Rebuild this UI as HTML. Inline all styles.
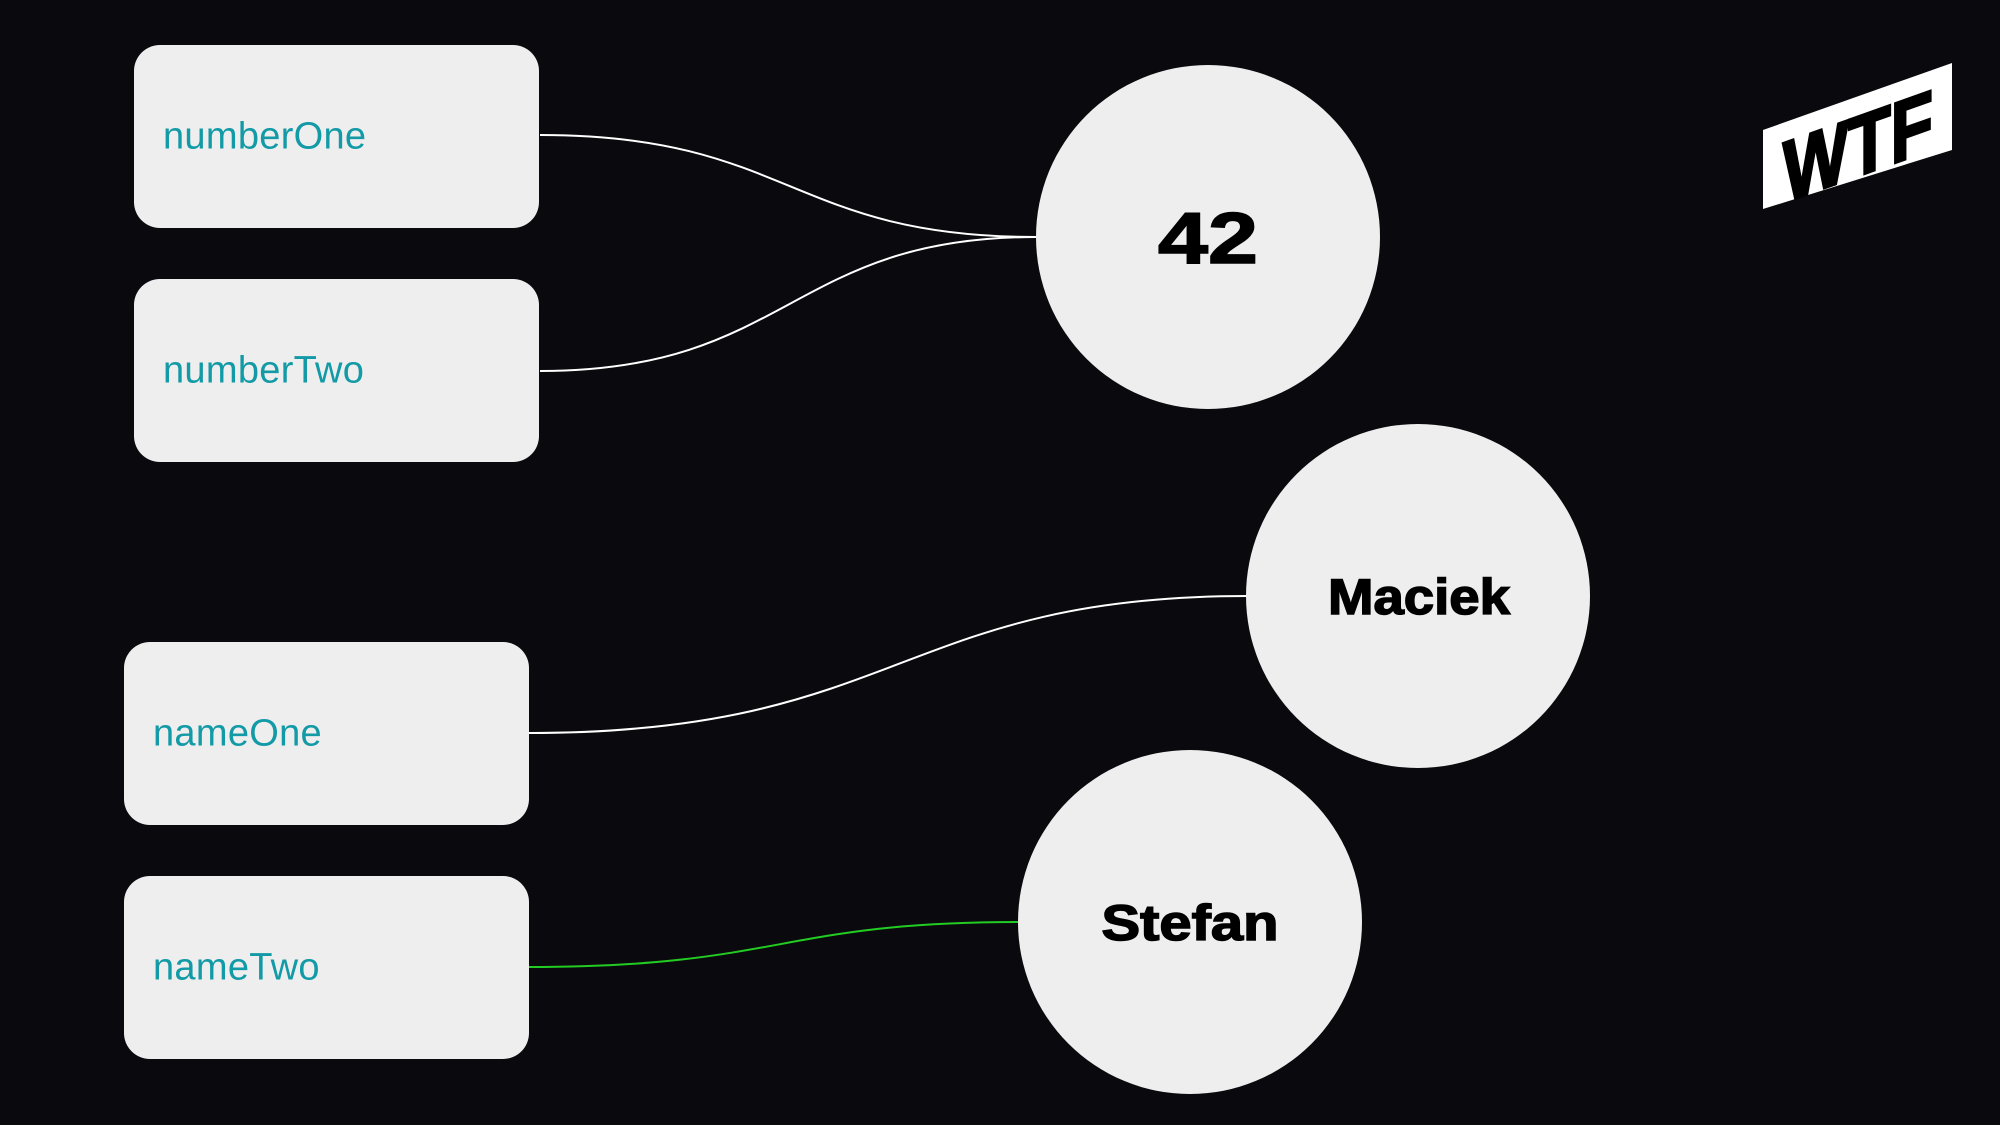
<!DOCTYPE html>
<html><head><meta charset="utf-8"><style>
html,body{margin:0;padding:0;background:#0a090e;}
body{width:2000px;height:1125px;overflow:hidden;position:relative;}
.box{position:absolute;background:#eeeeee;border-radius:26px;width:405px;height:183px;}
.box span{position:absolute;left:29px;top:50%;transform:translateY(-50%);font-family:"Liberation Sans",sans-serif;font-size:38px;color:#129aa6;letter-spacing:0.3px;}
</style></head><body>
<div class="box" style="left:134px;top:45px"><span>numberOne</span></div>
<div class="box" style="left:134px;top:279px"><span>numberTwo</span></div>
<div class="box" style="left:124px;top:642px"><span>nameOne</span></div>
<div class="box" style="left:124px;top:876px"><span>nameTwo</span></div>
<svg width="2000" height="1125" style="position:absolute;left:0;top:0">
<g fill="none" stroke-width="2">
<path d="M540 135 C790 135 790 237 1036 237" stroke="#fff"/>
<path d="M540 371 C790 371 790 237 1036 237" stroke="#fff"/>
<path d="M529 733 C900 733 900 596 1248 596" stroke="#fff"/>
<path d="M529 967 C780 967 780 922 1018 922" stroke="#22cc22"/>
</g>
<g fill="#eeeeee">
<circle cx="1208" cy="237" r="172"/>
<circle cx="1418" cy="596" r="172"/>
<circle cx="1190" cy="922" r="172"/>
</g>
<g font-family="Liberation Sans,sans-serif" font-weight="bold" fill="#000" stroke="#000" stroke-width="1.5" text-anchor="middle">
<text x="1208" y="263" font-size="72" textLength="100" lengthAdjust="spacingAndGlyphs">42</text>
<text x="1419" y="614" font-size="50" textLength="182" lengthAdjust="spacingAndGlyphs">Maciek</text>
<text x="1190" y="940" font-size="50" textLength="177" lengthAdjust="spacingAndGlyphs">Stefan</text>
</g>
<polygon points="1763,130 1952,63 1952,150 1763,209" fill="#fff"/>
<g transform="translate(1858,148) skewY(-19.5)">
<text x="0" y="28" font-family="Liberation Sans,sans-serif" font-weight="bold" font-size="86" fill="#000" stroke="#000" stroke-width="3" text-anchor="middle" textLength="150" lengthAdjust="spacingAndGlyphs">WTF</text>
</g>
</svg>
</body></html>
